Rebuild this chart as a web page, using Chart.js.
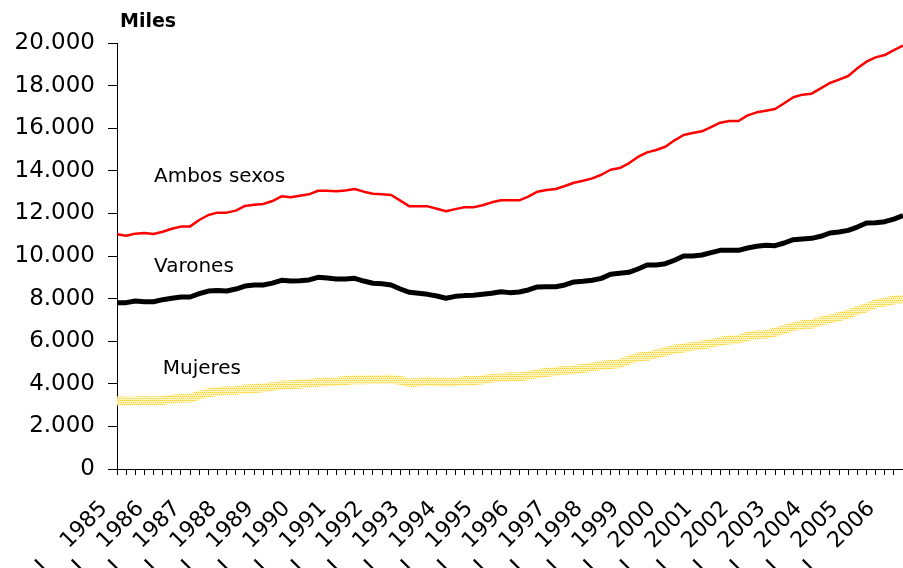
<!DOCTYPE html>
<html lang="es">
<head>
<meta charset="utf-8">
<title>Ocupados por sexo</title>
<script src="https://cdn.jsdelivr.net/npm/chart.js@4.4.1/dist/chart.umd.min.js"></script>
<style>
  body { margin: 0; background: #fff; overflow: hidden; }
  #chart { display: block; }
</style>
</head>
<body>
<canvas id="chart" width="903" height="568"></canvas>
<script>
// quarterly series, 1985 I to 2006 III (thousands)
var years = [1985, 1986, 1987, 1988, 1989, 1990, 1991, 1992, 1993, 1994, 1995,
             1996, 1997, 1998, 1999, 2000, 2001, 2002, 2003, 2004, 2005, 2006];
var quarters = ["I", "II", "III", "IV"];

var ambos = [11020, 10955, 11050, 11080, 11030, 11140, 11280, 11380, 11390, 11690,
             11925, 12035, 12035, 12130, 12350, 12410, 12440, 12580, 12800, 12755,
             12830, 12895, 13065, 13065, 13035, 13080, 13145, 13020, 12925, 12895,
             12865, 12600, 12330, 12330, 12330, 12220, 12100, 12200, 12285, 12285,
             12380, 12520, 12615, 12615, 12615, 12785, 13020, 13100, 13145, 13285,
             13440, 13535, 13645, 13815, 14050, 14130, 14350, 14650, 14865, 14975,
             15130, 15430, 15680, 15775, 15855, 16055, 16260, 16340, 16340, 16600,
             16745, 16820, 16900, 17170, 17450, 17575, 17620, 17870, 18120, 18280,
             18450, 18810, 19125, 19325, 19435, 19670, 19875];

var varones = [7810, 7810, 7890, 7855, 7855, 7950, 8015, 8075, 8075, 8230,
               8355, 8385, 8355, 8450, 8590, 8640, 8640, 8725, 8860, 8825,
               8840, 8875, 9000, 8965, 8920, 8920, 8950, 8825, 8720, 8700,
               8640, 8450, 8295, 8250, 8200, 8120, 8015, 8105, 8140, 8155,
               8200, 8250, 8325, 8280, 8310, 8405, 8545, 8560, 8560, 8640,
               8780, 8810, 8860, 8950, 9140, 9185, 9235, 9390, 9575, 9575,
               9640, 9800, 10000, 10000, 10045, 10155, 10265, 10265, 10265, 10375,
               10455, 10500, 10485, 10610, 10765, 10800, 10830, 10925, 11080, 11125,
               11205, 11360, 11550, 11565, 11610, 11735, 11900];

var mujeres = [3200, 3180, 3190, 3210, 3190, 3220, 3280, 3320, 3330, 3460,
               3580, 3640, 3670, 3690, 3760, 3780, 3810, 3870, 3940, 3940,
               3990, 4020, 4070, 4100, 4110, 4150, 4190, 4190, 4200, 4200,
               4220, 4160, 4050, 4080, 4120, 4100, 4090, 4100, 4150, 4140,
               4190, 4270, 4290, 4330, 4320, 4380, 4470, 4540, 4580, 4640,
               4660, 4720, 4790, 4870, 4910, 4950, 5110, 5260, 5290, 5400,
               5500, 5630, 5680, 5770, 5820, 5900, 5990, 6070, 6080, 6230,
               6290, 6320, 6420, 6560, 6680, 6780, 6800, 6950, 7040, 7150,
               7260, 7450, 7570, 7760, 7830, 7940, 7970];

var seriesNames = ["Ambos sexos", "Varones", "Mujeres"];
// inline series names: [category index, value at baseline]
var nameAnchors = [[4.05, 13490], [4.05, 9260], [5, 4450]];

var categories = [];
for (var i = 0; i < ambos.length; i++) {
    categories.push(quarters[i % 4] + " " + years[Math.floor(i / 4)]);
}

function thousands(v) {
    return String(v).replace(/\B(?=(\d{3})+(?!\d))/g, ".");
}

// dotted yellow fill for the women line
function dotPattern() {
    var c = document.createElement("canvas");
    c.width = 4;
    c.height = 4;
    var g = c.getContext("2d");
    g.fillStyle = "#fff5c2";
    g.fillRect(0, 0, 4, 4);
    g.fillStyle = "#fad232";
    g.fillRect(0, 0, 1, 1);
    g.fillRect(2, 0, 1, 1);
    g.fillRect(1, 2, 1, 1);
    g.fillRect(3, 2, 1, 1);
    g.fillStyle = "#ffe680";
    g.fillRect(1, 0, 1, 1);
    g.fillRect(3, 0, 1, 1);
    return g.createPattern(c, "repeat");
}

var namesPlugin = {
    id: "seriesNames",
    afterDraw: function(chart) {
        var ctx = chart.ctx;
        var x = chart.scales.x;
        var y = chart.scales.y;
        ctx.save();
        ctx.fillStyle = "#000";
        ctx.textAlign = "left";
        ctx.textBaseline = "alphabetic";
        ctx.font = "20px 'DejaVu Sans'";
        nameAnchors.forEach(function(a, k) {
            ctx.fillText(seriesNames[k], x.getPixelForValue(a[0]), y.getPixelForValue(a[1]));
        });
        ctx.font = "bold 19px 'DejaVu Sans'";
        ctx.fillText("Miles", chart.chartArea.left + 3, chart.chartArea.top - 16);
        ctx.restore();
    }
};

var chart = new Chart(document.getElementById("chart").getContext("2d"), {
    type: "line",
    data: {
        labels: categories,
        datasets: [{
            label: seriesNames[0],
            data: ambos,
            borderColor: "#ff0000",
            borderWidth: 2.5
        }, {
            label: seriesNames[1],
            data: varones,
            borderColor: "#000000",
            borderWidth: 5
        }, {
            label: seriesNames[2],
            data: mujeres,
            borderColor: dotPattern(),
            borderWidth: 9
        }]
    },
    options: {
        responsive: false,
        animation: false,
        layout: { padding: { top: 43, left: 0, right: 0, bottom: 0 } },
        plugins: {
            legend: { display: false },
            tooltip: { enabled: false }
        },
        elements: {
            point: { radius: 0 },
            line: { tension: 0, borderJoinStyle: "round", borderCapStyle: "butt" }
        },
        scales: {
            x: {
                offset: false,
                grid: { drawOnChartArea: false, drawTicks: true, tickLength: 6, tickColor: "#000" },
                border: { display: true, color: "#000", width: 1 },
                ticks: {
                    autoSkip: false,
                    minRotation: 45,
                    maxRotation: 45,
                    padding: 21,
                    labelOffset: -13,
                    color: "#000",
                    font: { family: "DejaVu Sans", size: 22 },
                    callback: function(val, idx) {
                        return idx % 4 === 0 ? "I    " + years[idx / 4] : "";
                    }
                },
                afterFit: function(s) {
                    s.height = 99;
                    s.paddingLeft = 0;
                    s.paddingRight = 0;
                }
            },
            y: {
                min: 0,
                max: 20000,
                grid: { drawOnChartArea: false, tickLength: 9, tickColor: "#000" },
                border: { display: true, color: "#000", width: 1 },
                ticks: {
                    stepSize: 2000,
                    padding: 13,
                    color: "#000",
                    font: { family: "DejaVu Sans", size: 23 },
                    callback: function(v) { return thousands(v); }
                },
                afterFit: function(s) {
                    s.width = 117;
                }
            }
        }
    },
    plugins: [namesPlugin]
});
</script>
</body>
</html>
